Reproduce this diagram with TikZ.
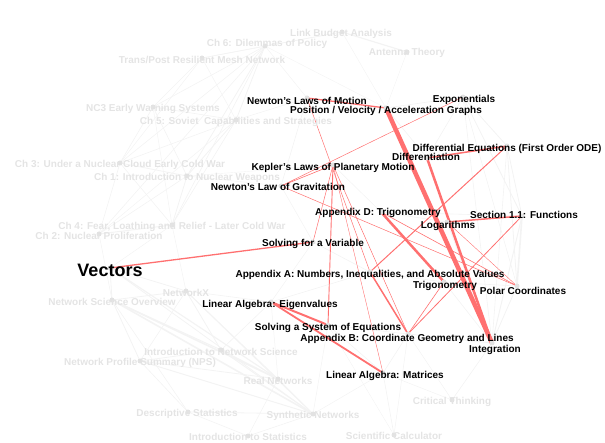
\documentclass[tikz,border=0pt]{standalone}
\usepackage{fontspec}
\setmainfont{Liberation Sans}
\usetikzlibrary{positioning}
\definecolor{edgered}{RGB}{255,112,112}
\definecolor{fadetext}{RGB}{228,228,228}
\definecolor{fadeedge}{RGB}{243,243,243}
\definecolor{dotgray}{RGB}{226,226,226}

\begin{document}
\begin{tikzpicture}[x=1pt, y=-1pt, font=\fontsize{10}{12}\selectfont\bfseries,
        topic/.style={inner sep=0pt, text=black},
        faded/.style={inner sep=0pt, text=fadetext},
        dot/.style={circle, fill=dotgray, inner sep=0pt, minimum size=5pt},
        redlink/.style={draw=edgered, line width=#1},
        greylink/.style={draw=fadeedge, line width=#1}]
  \useasboundingbox (0,0) rectangle (605,443);
  % topic positions
  \coordinate (vec) at (110,268);   \coordinate (solvar) at (313,242);
  \coordinate (eig) at (271,302);   \coordinate (sys) at (328,325);
  \coordinate (mat) at (383,373);   \coordinate (appb) at (408,334);
  \coordinate (appa) at (370,272);  \coordinate (trig) at (444,282);
  \coordinate (polar) at (517,286); \coordinate (integ) at (492,343);
  \coordinate (loga) at (447,222);  \coordinate (sec) at (522,216);
  \coordinate (diffeq) at (507,146);\coordinate (diff) at (427,158);
  \coordinate (posvel) at (386,108);\coordinate (nlm) at (307,98);
  \coordinate (expo) at (463,97);   \coordinate (kep) at (333,165);
  \coordinate (grav) at (281,186);  \coordinate (appd) at (381,212);
  % faded topics
  \coordinate (link) at (342,32);   \coordinate (ch6) at (265,46);
  \coordinate (mesh) at (202,58);   \coordinate (ant) at (407,52);
  \coordinate (nc3) at (153,107);   \coordinate (ch5) at (236,120);
  \coordinate (ch3) at (120,163);   \coordinate (ch1) at (187,176);
  \coordinate (ch4) at (172,225);   \coordinate (ch2) at (99,234);
  \coordinate (nx) at (186,291);    \coordinate (nso) at (112,300);
  \coordinate (ins) at (221,350);   \coordinate (nps) at (140,361);
  \coordinate (real) at (278,379);  \coordinate (desc) at (188,412);
  \coordinate (synth) at (313,414); \coordinate (stat) at (248,436);
  \coordinate (crit) at (452,400);  \coordinate (calc) at (394,435);

  % grey links
  \foreach \a/\b/\w in {ch6/mesh/0.6, ch6/nc3/0.6, ch6/ch5/0.8, ch6/ch3/0.6, ch6/ch1/0.8,
      ch6/ch4/0.6, ch6/ch2/0.6, ch6/link/0.6, link/ant/1.2, link/mesh/0.5, mesh/nc3/0.5,
      mesh/ch5/0.5, mesh/ch3/0.5, nc3/ch5/0.6, nc3/ch3/0.6, nc3/ch1/0.6, nc3/ch4/0.5,
      ch5/ch3/0.6, ch5/ch1/0.8, ch5/ch4/0.6, ch5/ch2/0.5, ch3/ch1/0.8, ch3/ch4/0.6,
      ch3/ch2/0.6, ch1/ch4/0.8, ch1/ch2/0.6, ch4/ch2/1.0, ch4/nx/0.5, ch2/nso/0.5,
      ch4/vec/0.5, nso/nx/0.8, nso/ins/1.0, nso/nps/0.8, nso/real/1.6, nso/synth/1.6,
      nso/desc/0.6, nx/ins/0.8, nx/real/0.8, nx/synth/1.0, nx/nps/0.6, ins/nps/0.8,
      ins/real/1.0, ins/synth/1.0, nps/real/0.8, nps/synth/1.0, real/synth/1.0,
      desc/synth/0.8, desc/stat/0.6, desc/nps/0.6, stat/synth/0.6, stat/real/0.5,
      vec/nso/0.8, vec/real/1.2, vec/synth/0.8, vec/nx/0.8, nx/eig/0.6, ins/eig/0.6,
      real/eig/0.5, synth/mat/0.5, synth/sys/0.5, expo/sec/0.8, expo/polar/0.6,
      expo/diffeq/0.8, expo/integ/0.6, diffeq/polar/0.8, diffeq/sec/0.8, diffeq/integ/0.6,
      sec/polar/1.6, sec/integ/1.0, polar/integ/0.8, crit/integ/0.6, crit/appb/0.5,
      crit/mat/0.5, calc/mat/0.6, calc/appb/0.5, calc/sys/0.4, integ/appb/0.8,
      posvel/expo/0.6, posvel/diff/0.6, diff/expo/0.6, nlm/grav/0.6, nlm/ch5/0.5,
      grav/ch1/0.5, kep/ch1/0.4, appd/kep/0.5, appd/sec/0.6, appd/loga/0.6, appa/eig/0.6,
      appa/solvar/0.6, sys/appb/0.6, mat/sys/0.6, mat/appb/0.6, eig/solvar/0.5,
      trig/polar/0.6, trig/integ/0.6, loga/integ/0.6, appa/trig/0.6, solvar/grav/0.5,
      ch6/nlm/0.5, ch6/posvel/0.4, ant/posvel/0.4, link/posvel/0.4}
    \draw[greylink=\w pt] (\a) -- (\b);

  % red links
  \foreach \a/\b/\w in {vec/solvar/1.3, nlm/posvel/1.3, nlm/appa/0.5, kep/grav/0.6,
      expo/grav/0.5, posvel/integ/4.5, diff/integ/2.5, diff/diffeq/1.5, diffeq/appa/1.0,
      loga/sec/1.5, sec/appb/0.8, appd/trig/2.5, appd/polar/0.6, loga/polar/0.4,
      eig/sys/2.0, eig/mat/1.8, appa/appb/1.5, trig/appb/0.6, kep/sys/0.9, kep/mat/0.4,
      kep/solvar/0.5, kep/appb/0.5, grav/polar/0.5}
    \draw[redlink=\w pt] (\a) -- (\b);

  % dots
  \foreach \n in {vec, solvar, eig, sys, mat, appb, appa, trig, polar, integ, loga, sec,
      diffeq, diff, posvel, nlm, expo, kep, grav, appd, link, ch6, mesh, ant, nc3, ch5,
      ch3, ch1, ch4, ch2, nx, nso, ins, nps, real, desc, synth, stat, crit, calc}
    \node[dot] (\n-d) at (\n) {};

  % faded labels
  \node[faded] (link-l) at (341,34) {Link Budget Analysis};
  \node[faded] (ch6-l) at (267,44) {Ch 6: Dilemmas of Policy};
  \node[faded] (mesh-l) at (202,60) {Trans/Post Resilient Mesh Network};
  \node[faded] (ant-l) at (407,53) {Antenna Theory};
  \node[faded] (nc3-l) at (153,109) {NC3 Early Warning Systems};
  \node[faded] (ch5-l) at (236,122) {Ch 5: Soviet\ \ Capabilities and Strategies};
  \node[faded] (ch3-l) at (120,165) {Ch 3: Under a Nuclear Cloud Early Cold War};
  \node[faded] (ch1-l) at (187,178) {Ch 1: Introduction to Nuclear Weapons};
  \node[faded] (ch4-l) at (172,227) {Ch 4: Fear, Loathing and Relief - Later Cold War};
  \node[faded] (ch2-l) at (99,236) {Ch 2: Nuclear Proliferation};
  \node[faded] (nx-l) at (186,293) {NetworkX};
  \node[faded] (nso-l) at (112,302) {Network Science Overview};
  \node[faded] (ins-l) at (221,352) {Introduction to Network Science};
  \node[faded] (nps-l) at (140,363) {Network Profile Summary (NPS)};
  \node[faded] (real-l) at (278,381) {Real Networks};
  \node[faded] (desc-l) at (187,414) {Descriptive Statistics};
  \node[faded] (synth-l) at (313,416) {Synthetic Networks};
  \node[faded] (stat-l) at (248,437) {Introduction to Statistics};
  \node[faded] (crit-l) at (452,402) {Critical Thinking};
  \node[faded] (calc-l) at (394,436) {Scientific Calculator};

  % topic labels
  \node[topic] (vec-l) at (110,270) {\fontsize{18}{20}\selectfont Vectors};
  \node[topic] (solvar-l) at (313,244) {Solving for a Variable};
  \node[topic] (eig-l) at (270,305) {Linear Algebra: Eigenvalues};
  \node[topic] (sys-l) at (328,328) {Solving a System of Equations};
  \node[topic] (mat-l) at (385,376) {Linear Algebra: Matrices};
  \node[topic] (appb-l) at (407,339) {Appendix B: Coordinate Geometry and Lines};
  \node[topic] (appa-l) at (370,275) {Appendix A: Numbers, Inequalities, and Absolute Values};
  \node[topic] (trig-l) at (445,286) {Trigonometry};
  \node[topic] (polar-l) at (523,291) {Polar Coordinates};
  \node[topic] (integ-l) at (495,350) {Integration};
  \node[topic] (loga-l) at (448,226) {Logarithms};
  \node[topic] (sec-l) at (524,215) {Section 1.1: Functions};
  \node[topic] (diffeq-l) at (507,149) {Differential Equations (First Order ODE)};
  \node[topic] (diff-l) at (426,157) {Differentiation};
  \node[topic] (posvel-l) at (386,111) {Position / Velocity / Acceleration Graphs};
  \node[topic] (nlm-l) at (307,101) {Newton's Laws of Motion};
  \node[topic] (expo-l) at (464,100) {Exponentials};
  \node[topic] (kep-l) at (333,168) {Kepler's Laws of Planetary Motion};
  \node[topic] (grav-l) at (278,187) {Newton's Law of Gravitation};
  \node[topic] (appd-l) at (378,213) {Appendix D: Trigonometry};
\end{tikzpicture}
\end{document}
